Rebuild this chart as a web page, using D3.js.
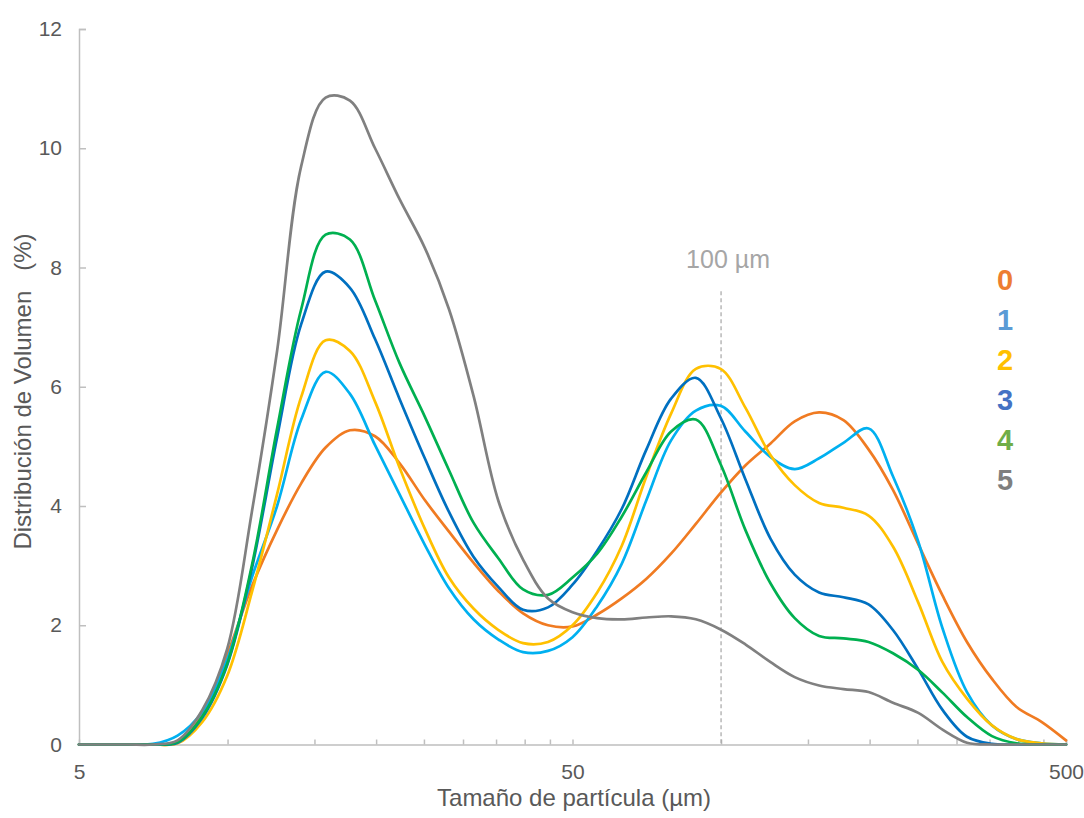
<!DOCTYPE html>
<html>
<head>
<meta charset="utf-8">
<script src="https://cdn.jsdelivr.net/npm/d3@7"></script>
<style>
  html, body { margin: 0; padding: 0; background: #ffffff; }
  svg { display: block; }
  text { font-family: "Liberation Sans", Arial, sans-serif; }
</style>
</head>
<body>
<svg id="chart" width="1084" height="818"></svg>
<script>
// ---- data ----
const sizes = [5, 5.61, 6.29, 7.06, 7.92, 8.89, 9.98, 11.2, 12.6, 14.1, 15.8, 17.7, 19.9, 22.3, 25.1, 28.1, 31.5, 35.4, 39.7, 44.6,
               50, 56.1, 62.9, 70.6, 79.2, 88.9, 99.8, 112, 126, 141, 158, 177, 199, 223, 251, 281, 315, 354, 397, 446, 500];

const s0 = [0, 0, 0, 0, 0.03, 0.5, 1.5, 2.65, 3.6, 4.38, 4.98, 5.27, 5.17, 4.72, 4.1, 3.57, 3.05, 2.57, 2.2, 2.0,
            1.98, 2.18, 2.45, 2.78, 3.2, 3.7, 4.22, 4.68, 5.05, 5.42, 5.57, 5.44, 4.95, 4.27, 3.36, 2.5, 1.72, 1.1, 0.63, 0.38, 0.07];
const s1 = [0, 0, 0, 0.01, 0.15, 0.55, 1.42, 2.8, 4.0, 5.45, 6.25, 5.88, 5.02, 4.2, 3.35, 2.62, 2.1, 1.76, 1.55, 1.57,
            1.8, 2.32, 3.03, 4.1, 5.1, 5.6, 5.68, 5.25, 4.82, 4.62, 4.8, 5.06, 5.3, 4.5, 3.4, 1.95, 0.88, 0.32, 0.09, 0.02, 0];
const s2 = [0, 0, 0, 0, 0.02, 0.38, 1.15, 2.55, 4.2, 5.83, 6.78, 6.6, 5.75, 4.65, 3.62, 2.8, 2.28, 1.92, 1.7, 1.72,
            2.0, 2.55, 3.33, 4.5, 5.55, 6.3, 6.3, 5.65, 4.85, 4.35, 4.05, 3.97, 3.84, 3.32, 2.38, 1.38, 0.77, 0.32, 0.09, 0.02, 0];
const s3 = [0, 0, 0, 0, 0.03, 0.45, 1.33, 2.95, 5.15, 7.05, 7.93, 7.66, 6.8, 5.8, 4.8, 3.9, 3.15, 2.64, 2.26, 2.3,
            2.68, 3.25, 3.95, 4.95, 5.8, 6.15, 5.48, 4.45, 3.45, 2.85, 2.55, 2.47, 2.35, 1.92, 1.26, 0.58, 0.13, 0.01, 0, 0, 0];
const s4 = [0, 0, 0, 0, 0.04, 0.47, 1.35, 3.0, 5.3, 7.3, 8.55, 8.47, 7.45, 6.4, 5.5, 4.6, 3.72, 3.12, 2.6, 2.51,
            2.8, 3.2, 3.82, 4.57, 5.25, 5.45, 4.7, 3.6, 2.7, 2.12, 1.82, 1.78, 1.72, 1.53, 1.25, 0.87, 0.46, 0.14, 0.02, 0, 0];
const s5 = [0, 0, 0, 0, 0.07, 0.58, 1.6, 3.9, 6.6, 9.7, 10.85, 10.8, 10.0, 9.15, 8.33, 7.3, 5.85, 4.08, 3.1, 2.45,
            2.22, 2.12, 2.1, 2.13, 2.15, 2.1, 1.93, 1.68, 1.38, 1.13, 0.99, 0.93, 0.88, 0.7, 0.53, 0.25, 0.03, 0, 0, 0, 0];

const seriesNames = ["0", "1", "2", "3", "4", "5"];
const seriesValues = [s0, s1, s2, s3, s4, s5];
const lineColors = ["#F07B22", "#00B0F0", "#FFC000", "#0070C0", "#00B050", "#808080"];
const legendColors = ["#ED7D31", "#5B9BD5", "#FFC000", "#4472C4", "#70AD47", "#7F7F7F"];

const xLabelTicks = [5, 50, 500];
const xMinorTicks = [10, 15, 20, 25, 30, 35, 40, 45, 50, 100, 150, 200, 250, 300, 350, 400, 450, 500];
const yTicks = [0, 2, 4, 6, 8, 10, 12];
const refValue = 100;
const refLabel = "100 µm";
const refTop = 7.6;
const xTitle = "Tamaño de partícula (µm)";
const yTitle = "Distribución de Volumen   (%)";

// ---- layout ----
const svg = d3.select("#chart");
const x = d3.scaleLog().domain([5, 500]).range([79, 1066]);
const y = d3.scaleLinear().domain([0, 12]).range([744.5, 29]);
const axisColor = "#BFBFBF";
const textColor = "#595959";

// y axis
const yAxisG = svg.append("g").attr("transform", `translate(${x.range()[0]},0)`)
  .call(d3.axisLeft(y).tickValues(yTicks).tickSize(-7).tickPadding(17).tickFormat(d3.format("d")));
yAxisG.select(".domain").attr("stroke", axisColor).attr("stroke-width", 1.5);
yAxisG.selectAll(".tick line").attr("stroke", axisColor).attr("stroke-width", 1.5);
yAxisG.selectAll(".tick text").attr("fill", textColor).attr("font-size", 21)
  .attr("font-family", "Liberation Sans, Arial, sans-serif");

// x axis minor ticks (inside)
const xTickG = svg.append("g").attr("transform", `translate(0,${y(0)})`)
  .call(d3.axisBottom(x).tickValues(xMinorTicks).tickSize(-5).tickFormat(""));
xTickG.select(".domain").attr("stroke", axisColor).attr("stroke-width", 1.5);
xTickG.selectAll(".tick line").attr("stroke", axisColor).attr("stroke-width", 1.5);

// x axis labels
const xLabG = svg.append("g").attr("transform", `translate(0,${y(0)})`)
  .call(d3.axisBottom(x).tickValues(xLabelTicks).tickSize(0).tickPadding(20).tickFormat(d3.format("d")));
xLabG.select(".domain").remove();
xLabG.selectAll(".tick text").attr("fill", textColor).attr("font-size", 21)
  .attr("font-family", "Liberation Sans, Arial, sans-serif");

// reference line at 100 µm
svg.append("line")
  .attr("x1", x(refValue)).attr("x2", x(refValue))
  .attr("y1", y(refTop)).attr("y2", y(0))
  .attr("stroke", "#A6A6A6").attr("stroke-width", 1.2).attr("stroke-dasharray", "4,3");
svg.append("text")
  .attr("x", x(refValue) + 7).attr("y", 268)
  .attr("text-anchor", "middle").attr("font-size", 25).attr("fill", "#A6A6A6")
  .text(refLabel);

// lines
const line = d3.line()
  .x((d, i) => x(sizes[i]))
  .y(d => y(d))
  .curve(d3.curveCatmullRom.alpha(0.5));

seriesValues.forEach((vals, k) => {
  svg.append("path")
    .datum(vals)
    .attr("fill", "none")
    .attr("stroke", lineColors[k])
    .attr("stroke-width", 2.7)
    .attr("stroke-linejoin", "round")
    .attr("stroke-linecap", "round")
    .attr("d", line);
});

// legend
seriesNames.forEach((n, k) => {
  svg.append("text")
    .attr("x", 1005).attr("y", 290 + 40 * k)
    .attr("text-anchor", "middle")
    .attr("font-size", 29).attr("font-weight", "bold")
    .attr("fill", legendColors[k])
    .text(n);
});

// axis titles
svg.append("text")
  .attr("x", 574).attr("y", 806)
  .attr("text-anchor", "middle").attr("font-size", 24).attr("fill", textColor)
  .style("white-space", "pre")
  .text(xTitle);
svg.append("text")
  .attr("transform", `translate(30.5,391.5) rotate(-90)`)
  .attr("text-anchor", "middle").attr("font-size", 24).attr("fill", textColor)
  .style("white-space", "pre")
  .text(yTitle);
</script>
</body>
</html>
